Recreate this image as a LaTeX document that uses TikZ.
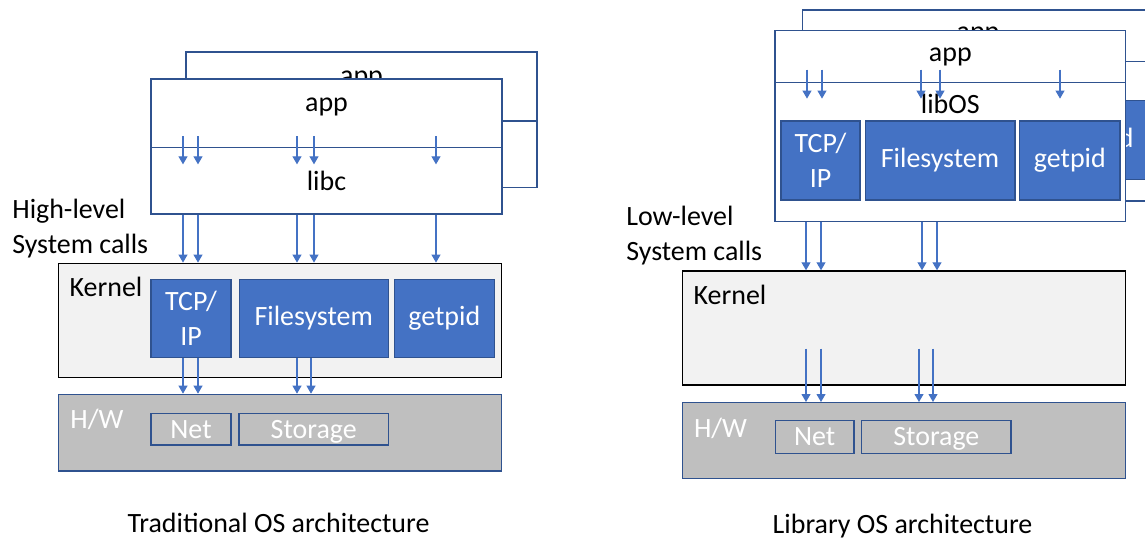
\documentclass[tikz,border=0pt]{standalone}
\usepackage{fontspec}
\setmainfont{Carlito}
\usetikzlibrary{arrows.meta,calc}
\definecolor{accblue}{HTML}{4472C4}
\definecolor{edgeblue}{HTML}{2F528F}
\definecolor{kerngray}{HTML}{F2F2F2}
\definecolor{hwgray}{HTML}{BFBFBF}

\begin{document}
\begin{tikzpicture}[x=0.02cm,y=-0.02cm,
    every node/.style={font=\fontsize{15.9}{19.8}\selectfont},
    layer/.style={draw=edgeblue,line width=0.8pt,fill=white,inner sep=0},
    raised/.style={text height=0.2cm,text depth=0.27cm},
    module/.style={draw=edgeblue,line width=0.6pt,fill=accblue,text=white,align=center,inner sep=0},
    kernel/.style={draw=black,line width=0.8pt,fill=kerngray,inner sep=0},
    hardware/.style={draw=edgeblue,line width=0.8pt,fill=hwgray,inner sep=0},
    device/.style={draw=edgeblue,line width=0.8pt,text=white,inner sep=0,text height=0.4cm,text depth=0.04cm},
    tag/.style={anchor=north west,inner sep=0},
    call/.style={-{Triangle[width=0.18cm,length=0.16cm]},draw=accblue,line width=0.6pt}]
  \useasboundingbox (0,0) rectangle (1145,540);
  \clip (0,0) rectangle (1145,540);

  \node[layer,raised,minimum width=7.02cm,minimum height=1.38cm] (AppBL) at (361.5,86.5) {app};
  \node[layer,minimum width=7.02cm,minimum height=1.334cm] (LibcBL) at (361.5,154.3) {};
  \node[layer,raised,minimum width=7.02cm,minimum height=1.374cm] (AppL) at (326.5,113.3) {app};
  \node[layer,minimum width=7.02cm,minimum height=1.326cm] (LibcL) at (326.5,180.9) {libc};
  \node[kernel,minimum width=8.868cm,minimum height=2.288cm,
        label={[tag,xshift=0.234cm,yshift=-0.28cm]north west:Kernel}] (KernL) at (280,320.5) {};
  \node[module,minimum width=1.6cm,minimum height=1.568cm] (TcpL) at (191,318.5) {TCP/\\IP};
  \node[module,minimum width=2.986cm,minimum height=1.568cm] (FsL) at (313.7,318.5) {Filesystem};
  \node[module,minimum width=2cm,minimum height=1.568cm] (PidL) at (444.3,318.5) {getpid};
  \node[hardware,minimum width=8.868cm,minimum height=1.534cm,
        label={[tag,text=white,xshift=0.25cm,yshift=-0.3cm]north west:H/W}] (HwL) at (280,432.7) {};
  \node[device,minimum width=1.6cm,minimum height=0.634cm] (NetL) at (191,429.2) {Net};
  \node[device,minimum width=2.986cm,minimum height=0.634cm] (StoL) at (313.7,429.2) {Storage};
  \node[tag,align=left] (HighL) at (12,199) {High-level\\System calls};
  \node[anchor=base] (CapL) at (278.5,532) {Traditional OS architecture};

  \draw[call] ($(183,0 |- AppL.south)+(0,-12)$) -- ++(0,28);
  \draw[call] ($(198,0 |- AppL.south)+(0,-12)$) -- ++(0,28);
  \draw[call] ($(297,0 |- AppL.south)+(0,-12)$) -- ++(0,28);
  \draw[call] ($(314,0 |- AppL.south)+(0,-12)$) -- ++(0,28);
  \draw[call] ($(436,0 |- AppL.south)+(0,-12)$) -- ++(0,28);
  \draw[call] (183,0 |- LibcL.south) -- (183,0 |- KernL.north);
  \draw[call] (198,0 |- LibcL.south) -- (198,0 |- KernL.north);
  \draw[call] (297,0 |- LibcL.south) -- (297,0 |- KernL.north);
  \draw[call] (314,0 |- LibcL.south) -- (314,0 |- KernL.north);
  \draw[call] (436,0 |- LibcL.south) -- (436,0 |- KernL.north);
  \draw[call] (183,0 |- TcpL.south) -- (183,0 |- HwL.north);
  \draw[call] (198,0 |- TcpL.south) -- (198,0 |- HwL.north);
  \draw[call] (297,0 |- FsL.south) -- (297,0 |- HwL.north);
  \draw[call] (311,0 |- FsL.south) -- (311,0 |- HwL.north);

  \node[layer,minimum width=7.014cm,minimum height=1.032cm] (AppBR) at (978.05,35.8) {app};
  \node[layer,minimum width=7.014cm,minimum height=2.788cm] (LibBR) at (978.05,131.3) {};
  \node[module,minimum width=2.006cm,minimum height=1.58cm] (PidBR) at (1097.55,139.8) {getpid};
  \node[layer,minimum width=7.014cm,minimum height=1.032cm] (AppR) at (950.35,56.5) {app};
  \node[layer,minimum width=7.014cm,minimum height=2.788cm,
        label={[anchor=north,inner sep=0,yshift=-0.24cm]north:libOS}] (LibR) at (950.35,152) {};
  \node[module,minimum width=1.58cm,minimum height=1.58cm] (TcpR) at (820.5,160.5) {TCP/\\IP};
  \node[module,minimum width=3cm,minimum height=1.58cm] (FsR) at (940,160.5) {Filesystem};
  \node[module,minimum width=2.006cm,minimum height=1.58cm] (PidR) at (1069.85,160.5) {getpid};
  \node[kernel,minimum width=8.868cm,minimum height=2.28cm,
        label={[tag,xshift=0.234cm,yshift=-0.28cm]north west:Kernel}] (KernR) at (904,328) {};
  \node[hardware,minimum width=8.868cm,minimum height=1.512cm,
        label={[tag,text=white,xshift=0.24cm,yshift=-0.31cm]north west:H/W}] (HwR) at (904,440.5) {};
  \node[device,minimum width=1.574cm,minimum height=0.66cm] (NetR) at (814.65,436.8) {Net};
  \node[device,minimum width=2.986cm,minimum height=0.66cm] (StoR) at (936.35,436.8) {Storage};
  \node[tag,align=left] (LowR) at (626,206) {Low-level\\System calls};
  \node[anchor=base] (CapR) at (902.5,533) {Library OS architecture};

  \draw[call] ($(807,0 |- LibR.north)+(0,-12)$) -- ++(0,29);
  \draw[call] ($(822,0 |- LibR.north)+(0,-12)$) -- ++(0,29);
  \draw[call] ($(921,0 |- LibR.north)+(0,-12)$) -- ++(0,29);
  \draw[call] ($(940,0 |- LibR.north)+(0,-12)$) -- ++(0,29);
  \draw[call] ($(1060,0 |- LibR.north)+(0,-12)$) -- ++(0,29);
  \draw[call] (806,0 |- LibR.south) -- (806,0 |- KernR.north);
  \draw[call] (821,0 |- LibR.south) -- (821,0 |- KernR.north);
  \draw[call] (922,0 |- LibR.south) -- (922,0 |- KernR.north);
  \draw[call] (937,0 |- LibR.south) -- (937,0 |- KernR.north);
  \draw[call] ($(806,0 |- KernR.south)+(0,-37)$) -- (806,0 |- HwR.north);
  \draw[call] ($(821,0 |- KernR.south)+(0,-37)$) -- (821,0 |- HwR.north);
  \draw[call] ($(919,0 |- KernR.south)+(0,-37)$) -- (919,0 |- HwR.north);
  \draw[call] ($(933,0 |- KernR.south)+(0,-37)$) -- (933,0 |- HwR.north);
\end{tikzpicture}
\end{document}
